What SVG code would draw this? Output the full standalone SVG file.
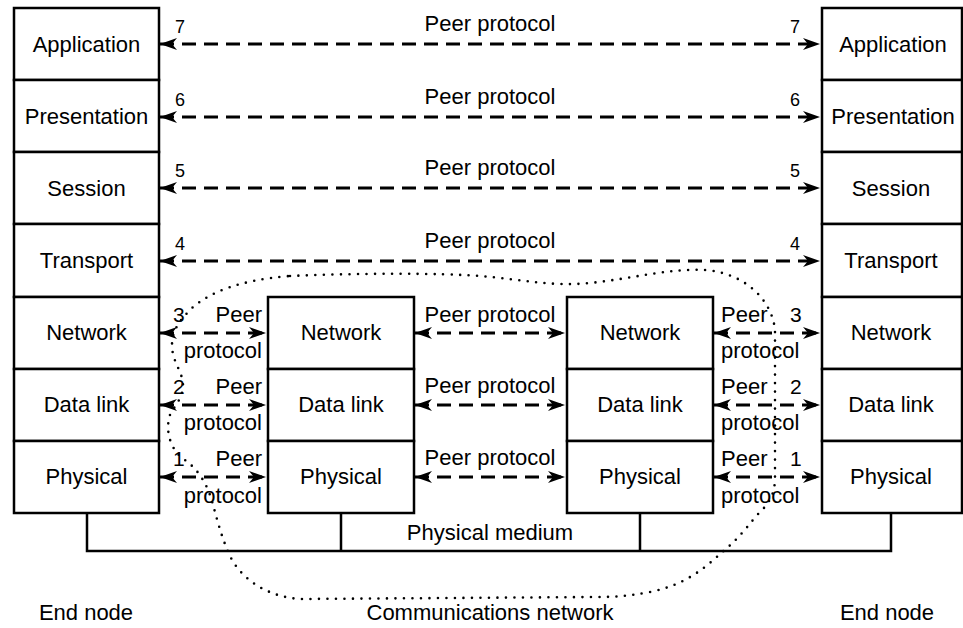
<svg xmlns="http://www.w3.org/2000/svg" width="963" height="628" viewBox="0 0 963 628">
<style>
.box{fill:#fff;stroke:#000;stroke-width:2.5}
.lbl{font-family:"Liberation Sans",Arial,Helvetica,sans-serif;font-size:22px;fill:#000;text-anchor:middle}
.pl{font-family:"Liberation Sans",Arial,Helvetica,sans-serif;font-size:22px;fill:#000}
.num{font-family:"Liberation Sans",Arial,Helvetica,sans-serif;font-size:18px;fill:#000}
.num2{font-family:"Liberation Sans",Arial,Helvetica,sans-serif;font-size:21px;fill:#000}
.arr{stroke:#000;stroke-width:2.8;stroke-dasharray:14 8;fill:none;marker-start:url(#ah);marker-end:url(#ah)}
.med{stroke:#000;stroke-width:2.5;fill:none}
.dot{stroke:#000;stroke-width:2.6;fill:none;stroke-linecap:round;stroke-dasharray:0 8.5}
</style>
<defs>
<marker id="ah" markerUnits="userSpaceOnUse" viewBox="-18 -7 19 14" refX="0" refY="0" markerWidth="19" markerHeight="14" orient="auto-start-reverse">
<path d="M0,0 L-17,-6 L-12,0 L-17,6 Z" fill="#000"/>
</marker>
</defs>

<g id="end-node-left">
<rect class="box" x="14" y="8" width="145" height="72"/>
<rect class="box" x="14" y="80" width="145" height="72"/>
<rect class="box" x="14" y="152" width="145" height="72"/>
<rect class="box" x="14" y="224" width="145" height="73"/>
<rect class="box" x="14" y="297" width="145" height="72"/>
<rect class="box" x="14" y="369" width="145" height="72"/>
<rect class="box" x="14" y="441" width="145" height="72"/>
<text class="lbl" x="86.5" y="52">Application</text>
<text class="lbl" x="86.5" y="124">Presentation</text>
<text class="lbl" x="86.5" y="196">Session</text>
<text class="lbl" x="86.5" y="268">Transport</text>
<text class="lbl" x="86.5" y="340">Network</text>
<text class="lbl" x="86.5" y="412">Data link</text>
<text class="lbl" x="86.5" y="484">Physical</text>
</g>

<g id="end-node-right">
<rect class="box" x="822" y="8" width="140" height="72"/>
<rect class="box" x="822" y="80" width="140" height="72"/>
<rect class="box" x="822" y="152" width="140" height="72"/>
<rect class="box" x="822" y="224" width="140" height="73"/>
<rect class="box" x="822" y="297" width="140" height="72"/>
<rect class="box" x="822" y="369" width="140" height="72"/>
<rect class="box" x="822" y="441" width="140" height="72"/>
<text class="lbl" x="893" y="52">Application</text>
<text class="lbl" x="893" y="124">Presentation</text>
<text class="lbl" x="891" y="196">Session</text>
<text class="lbl" x="891" y="268">Transport</text>
<text class="lbl" x="891" y="340">Network</text>
<text class="lbl" x="891" y="412">Data link</text>
<text class="lbl" x="891" y="484">Physical</text>
</g>

<g id="relay-left">
<rect class="box" x="268" y="297" width="146" height="72"/>
<rect class="box" x="268" y="369" width="146" height="72"/>
<rect class="box" x="268" y="441" width="146" height="72"/>
<text class="lbl" x="341" y="340">Network</text>
<text class="lbl" x="341" y="412">Data link</text>
<text class="lbl" x="341" y="484">Physical</text>
</g>

<g id="relay-right">
<rect class="box" x="567" y="297" width="146" height="72"/>
<rect class="box" x="567" y="369" width="146" height="72"/>
<rect class="box" x="567" y="441" width="146" height="72"/>
<text class="lbl" x="640" y="340">Network</text>
<text class="lbl" x="640" y="412">Data link</text>
<text class="lbl" x="640" y="484">Physical</text>
</g>

<g id="physical-medium">
<path class="med" d="M87,514 V551 H891 V514 M341,514 V551 M640,514 V551"/>
<text class="lbl" x="490" y="540">Physical medium</text>
</g>

<g id="communications-network">
<path class="dot" d="M290,276 C360,273 440,273 480,276 C520,279 550,287 590,283 C630,279 670,268 705,270 C745,273 772,300 775,330 L775,478 C775,495 768,505 757,515 C745,530 735,542 721,553 C705,568 685,585 650,592 C630,596 615,597 596,597 L300,599 C270,597 245,582 232,560 C222,540 218,522 213,505 C208,485 198,468 182,458 C170,448 165,430 170,415 C175,405 183,398 183,385 C183,372 172,362 172,345 C172,330 180,320 192,308 C210,292 240,280 290,276 Z"/>
</g>

<g id="connectors">
<line class="arr" x1="160" y1="44" x2="820" y2="44"/>
<line class="arr" x1="160" y1="117" x2="820" y2="117"/>
<line class="arr" x1="160" y1="188" x2="820" y2="188"/>
<line class="arr" x1="160" y1="261" x2="820" y2="261"/>
<line class="arr" x1="160" y1="333" x2="266" y2="333"/>
<line class="arr" x1="160" y1="405" x2="266" y2="405"/>
<line class="arr" x1="160" y1="477" x2="266" y2="477"/>
<line class="arr" x1="415" y1="333" x2="565" y2="333"/>
<line class="arr" x1="415" y1="405" x2="565" y2="405"/>
<line class="arr" x1="415" y1="477" x2="565" y2="477"/>
<line class="arr" x1="714" y1="333" x2="820" y2="333"/>
<line class="arr" x1="714" y1="405" x2="820" y2="405"/>
<line class="arr" x1="714" y1="477" x2="820" y2="477"/>
</g>

<g id="connector-labels">
<text class="lbl" x="490" y="31">Peer protocol</text>
<text class="lbl" x="490" y="104">Peer protocol</text>
<text class="lbl" x="490" y="175">Peer protocol</text>
<text class="lbl" x="490" y="248">Peer protocol</text>
<text class="num" x="175" y="33">7</text>
<text class="num" x="790" y="33">7</text>
<text class="num" x="175" y="106">6</text>
<text class="num" x="790" y="106">6</text>
<text class="num" x="175" y="177">5</text>
<text class="num" x="790" y="177">5</text>
<text class="num" x="175" y="250">4</text>
<text class="num" x="790" y="250">4</text>

<text class="lbl" x="490" y="322">Peer protocol</text>
<text class="lbl" x="490" y="393">Peer protocol</text>
<text class="lbl" x="490" y="465">Peer protocol</text>

<text class="num2" x="173" y="322">3</text>
<text class="num2" x="173" y="394">2</text>
<text class="num2" x="173" y="466">1</text>
<text class="pl" x="262" y="322" text-anchor="end">Peer</text>
<text class="pl" x="262" y="358" text-anchor="end">protocol</text>
<text class="pl" x="262" y="394" text-anchor="end">Peer</text>
<text class="pl" x="262" y="430" text-anchor="end">protocol</text>
<text class="pl" x="262" y="466" text-anchor="end">Peer</text>
<text class="pl" x="262" y="503" text-anchor="end">protocol</text>

<text class="num2" x="790" y="322">3</text>
<text class="num2" x="790" y="394">2</text>
<text class="num2" x="790" y="466">1</text>
<text class="pl" x="721" y="322">Peer</text>
<text class="pl" x="721" y="358">protocol</text>
<text class="pl" x="721" y="394">Peer</text>
<text class="pl" x="721" y="430">protocol</text>
<text class="pl" x="721" y="466">Peer</text>
<text class="pl" x="721" y="503">protocol</text>
</g>

<g id="captions">
<text class="lbl" x="86" y="620">End node</text>
<text class="lbl" x="490" y="620">Communications network</text>
<text class="lbl" x="887" y="620">End node</text>
</g>
</svg>
